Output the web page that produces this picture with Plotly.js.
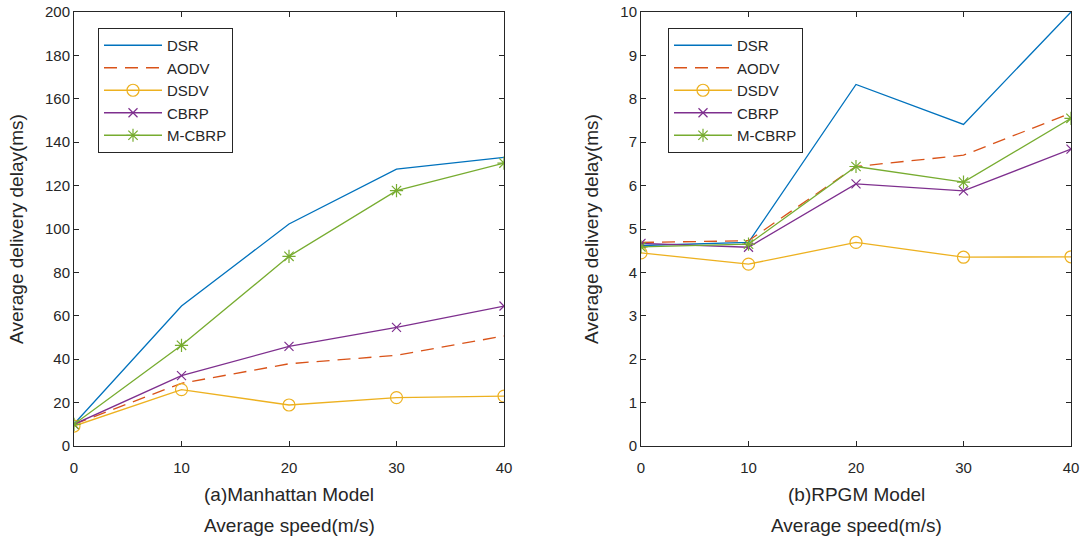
<!DOCTYPE html>
<html><head><meta charset="utf-8">
<script src="https://cdn.plot.ly/plotly-3.0.1.min.js"></script>
<style>body{margin:0;padding:0;background:#fff}#chart{width:1088px;height:539px}</style>
</head><body><div id="chart"></div>
<script>
const speeds = [0, 10, 20, 30, 40];
const seriesNames = ["DSR", "AODV", "DSDV", "CBRP", "M-CBRP"];
const modelNames = ["(a)Manhattan Model", "(b)RPGM Model"];
const xTitle = "Average speed(m/s)";
const yTitle = "Average delivery delay(ms)";
// (a) Manhattan Model
const manDSR   = [10.1, 64.5, 102.3, 127.6, 133.0];
const manAODV  = [10.0, 28.9, 37.9, 41.8, 50.7];
const manDSDV  = [9.2, 26.0, 18.9, 22.3, 23.0];
const manCBRP  = [10.0, 32.4, 45.9, 54.7, 64.5];
const manMCBRP = [10.0, 46.4, 87.4, 117.7, 130.4];
// (b) RPGM Model
const rpgDSR   = [4.62, 4.69, 8.33, 7.41, 10.0];
const rpgAODV  = [4.69, 4.73, 6.44, 6.70, 7.67];
const rpgDSDV  = [4.45, 4.19, 4.69, 4.35, 4.36];
const rpgCBRP  = [4.67, 4.58, 6.04, 5.88, 6.84];
const rpgMCBRP = [4.59, 4.65, 6.44, 6.08, 7.55];

const colors = ["#0072BD", "#D95319", "#EDB120", "#7E2F8E", "#77AC30"];
const styles = [
  {dash: "solid", mode: "lines", symbol: null},
  {dash: "13px,8px", mode: "lines", symbol: null},
  {dash: "solid", mode: "lines+markers", symbol: "circle-open", size: 12},
  {dash: "solid", mode: "lines+markers", symbol: "x-thin-open", size: 9},
  {dash: "solid", mode: "lines+markers", symbol: "asterisk-open", size: 11}
];
const manData = [manDSR, manAODV, manDSDV, manCBRP, manMCBRP];
const rpgData = [rpgDSR, rpgAODV, rpgDSDV, rpgCBRP, rpgMCBRP];

const traces = [];
function addSet(dataArr, xa, ya, leg) {
  dataArr.forEach((vals, i) => {
    const s = styles[i];
    const t = {
      x: speeds, y: vals, type: "scatter", mode: s.mode, name: seriesNames[i],
      xaxis: xa, yaxis: ya, legend: leg,
      line: {color: colors[i], width: 1.3, dash: s.dash}
    };
    if (s.symbol) t.marker = {symbol: s.symbol, size: s.size, color: colors[i], line: {color: colors[i], width: 1.2}};
    traces.push(t);
  });
}
addSet(manData, "x", "y", "legend");
addSet(rpgData, "x2", "y2", "legend2");

const fontFam = "Liberation Sans, Arial, sans-serif";
const txtCol = "#262626";
const axCommon = {
  showline: true, mirror: "ticks", linecolor: txtCol, linewidth: 1,
  ticks: "inside", ticklen: 5, tickcolor: txtCol,
  showgrid: false, zeroline: false,
  tickfont: {family: fontFam, size: 15, color: txtCol}
};
const W = 1088, PH = 434;
const d1 = [74/W, 504/W], d2 = [641/W, 1071/W];
function xTitleAnns(dom, model) {
  const cx = (dom[0] + dom[1]) / 2;
  return [
    {text: model, xref: "paper", yref: "paper", x: cx, y: -49/PH, xanchor: "center", yanchor: "middle", showarrow: false,
     font: {family: fontFam, size: 19, color: txtCol}},
    {text: xTitle, xref: "paper", yref: "paper", x: cx, y: -79/PH, xanchor: "center", yanchor: "middle", showarrow: false,
     font: {family: fontFam, size: 19, color: txtCol}}
  ];
}
const legCommon = {xanchor: "left", yanchor: "top", bgcolor: "#fff", bordercolor: txtCol, borderwidth: 1,
  font: {family: fontFam, size: 15, color: txtCol}, itemwidth: 58, tracegroupgap: 0};
const layout = {
  width: 1088, height: 539,
  margin: {l: 0, r: 0, t: 12, b: 93},
  paper_bgcolor: "#fff", plot_bgcolor: "#fff",
  showlegend: true,
  xaxis: Object.assign({}, axCommon, {domain: d1, range: [0, 40], tickvals: speeds, anchor: "y", ticklabelstandoff: 8}),
  yaxis: Object.assign({}, axCommon, {range: [0, 200], dtick: 20, anchor: "x",
    title: {text: yTitle, font: {family: fontFam, size: 19, color: txtCol}, standoff: 16}}),
  xaxis2: Object.assign({}, axCommon, {domain: d2, range: [0, 40], tickvals: speeds, anchor: "y2", ticklabelstandoff: 8}),
  yaxis2: Object.assign({}, axCommon, {range: [0, 10], dtick: 1, anchor: "x2",
    title: {text: yTitle, font: {family: fontFam, size: 19, color: txtCol}, standoff: 16}}),
  legend: Object.assign({}, legCommon, {x: 98/W, y: (446-28)/PH}),
  legend2: Object.assign({}, legCommon, {x: 668/W, y: (446-28)/PH}),
  annotations: xTitleAnns(d1, modelNames[0]).concat(xTitleAnns(d2, modelNames[1]))
};
Plotly.newPlot("chart", traces, layout, {displayModeBar: false, staticPlot: true});
</script>
</body></html>
